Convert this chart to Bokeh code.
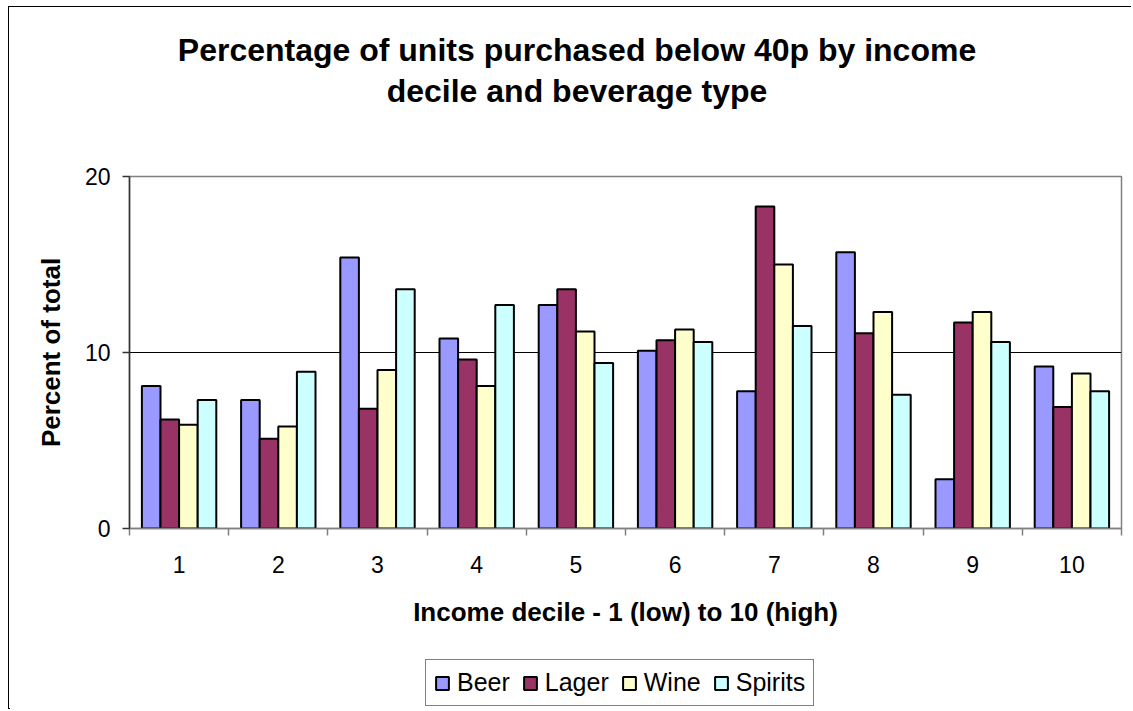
from bokeh.plotting import figure
from bokeh.layouts import column
from bokeh.models import (Range1d, FixedTicker, Legend, LegendItem, Label,
                          ColumnDataSource)
from bokeh.transform import dodge
from bokeh.embed import file_html
from bokeh.resources import INLINE

# ---- data ----
deciles = [1, 2, 3, 4, 5, 6, 7, 8, 9, 10]
tick_labels = ["1", "2", "3", "4", "5", "6", "7", "8", "9", "10"]
beer = [8.1, 7.3, 15.4, 10.8, 12.7, 10.1, 7.8, 15.7, 2.8, 9.2]
lager = [6.2, 5.1, 6.8, 9.6, 13.6, 10.7, 18.3, 11.1, 11.7, 6.9]
wine = [5.9, 5.8, 9.0, 8.1, 11.2, 11.3, 15.0, 12.3, 12.3, 8.8]
spirits = [7.3, 8.9, 13.6, 12.7, 9.4, 10.6, 11.5, 7.6, 10.6, 7.8]
series_names = ["Beer", "Lager", "Wine", "Spirits"]
series_colors = ["#9999FF", "#993366", "#FFFFCC", "#CCFFFF"]
y_ticks = [0, 10, 20]
title_lines = ["Percentage of units purchased below 40p by income",
               "decile and beverage type"]

FONT = "Liberation Sans"
W = 1122

data = dict(decile=deciles, Beer=beer, Lager=lager, Wine=wine, Spirits=spirits)
src = ColumnDataSource(data)
bar_w = 0.1875
offsets = [-1.5 * bar_w, -0.5 * bar_w, 0.5 * bar_w, 1.5 * bar_w]

# ---------------- title strip ----------------
TH = 130
tp = figure(width=W, height=TH, output_backend="svg", toolbar_location=None,
            x_range=Range1d(0, W), y_range=Range1d(TH, 0),
            x_axis_location=None, y_axis_location=None, min_border=0,
            frame_align=False)
tp.grid.visible = False
tp.outline_line_color = None
tp.background_fill_color = "white"
tp.border_fill_color = "white"
for i, line in enumerate(title_lines):
    tp.add_layout(Label(x=567.5, y=42 + 41.5 * i, text=line, text_align="center",
                        text_baseline="alphabetic", text_font=FONT,
                        text_font_style="bold", text_font_size="32px",
                        text_color="black"))

# ---------------- main chart ----------------
p = figure(width=W, height=501, output_backend="svg", toolbar_location=None,
           x_range=Range1d(0.5, 10.5), y_range=Range1d(0, 20),
           min_border_left=120, min_border_top=39, min_border_right=10,
           min_border_bottom=110, frame_align=False)
p.background_fill_color = "white"
p.border_fill_color = "white"
p.outline_line_color = "#808080"
p.outline_line_width = 1.5

for name, col, off in zip(series_names, series_colors, offsets):
    p.vbar(x=dodge("decile", off, range=p.x_range), top=name, width=bar_w,
           source=src, fill_color=col, line_color="black", line_width=2)

p.xgrid.visible = False
p.ygrid.ticker = FixedTicker(ticks=[10])
p.ygrid.grid_line_color = "black"
p.ygrid.grid_line_width = 1

xa = p.xaxis[0]
xa.ticker = FixedTicker(ticks=deciles,
                        minor_ticks=[d - 0.5 for d in deciles] + [deciles[-1] + 0.5])
xa.major_label_overrides = {d: t for d, t in zip(deciles, tick_labels)}
xa.major_tick_line_color = None
xa.major_tick_out = 0
xa.major_tick_in = 0
xa.minor_tick_out = 7
xa.minor_tick_in = 0
xa.minor_tick_line_color = "#808080"
xa.minor_tick_line_width = 1.5
xa.axis_line_color = "#808080"
xa.axis_line_width = 1.5
xa.major_label_text_font = FONT
xa.major_label_text_font_size = "23px"
xa.major_label_text_color = "black"
xa.major_label_standoff = 20
xa.axis_label = "Income decile - 1 (low) to 10 (high)"
xa.axis_label_text_font = FONT
xa.axis_label_text_font_style = "bold"
xa.axis_label_text_font_size = "26px"
xa.axis_label_text_color = "black"
xa.axis_label_standoff = 21

ya = p.yaxis[0]
ya.ticker = FixedTicker(ticks=y_ticks, minor_ticks=[])
ya.major_tick_out = 7
ya.major_tick_in = 0
ya.major_tick_line_color = "#333333"
ya.major_tick_line_width = 1.5
ya.axis_line_color = "#333333"
ya.axis_line_width = 1.5
ya.major_label_text_font = FONT
ya.major_label_text_font_size = "23px"
ya.major_label_text_color = "black"
ya.major_label_standoff = 12
ya.axis_label = "Percent of total"
ya.axis_label_text_font = FONT
ya.axis_label_text_font_style = "bold"
ya.axis_label_text_font_size = "26px"
ya.axis_label_text_color = "black"
ya.axis_label_standoff = 16

# ---------------- legend strip ----------------
LH = 71
lp = figure(width=W, height=LH, output_backend="svg", toolbar_location=None,
            x_range=Range1d(100, 101), y_range=Range1d(100, 101),
            x_axis_location=None, y_axis_location=None, min_border=0,
            frame_align=False)
lp.grid.visible = False
lp.outline_line_color = None
lp.background_fill_color = "white"
lp.border_fill_color = "white"
items = []
for name, col in zip(series_names, series_colors):
    # same series, only used for the legend swatches (outside this strip's view)
    r = lp.vbar(x="decile", top=name, width=bar_w, source=src,
                fill_color=col, line_color="black", line_width=2)
    items.append(LegendItem(label=name, renderers=[r]))

legend = Legend(items=items, orientation="horizontal", location=(416, 3))
legend.label_text_font = FONT
legend.label_text_font_size = "25px"
legend.label_text_color = "black"
legend.glyph_width = 16
legend.glyph_height = 16
legend.label_standoff = 7
legend.spacing = 12
legend.padding = 8
legend.margin = 0
legend.border_line_color = "black"
legend.border_line_width = 1
legend.background_fill_color = "white"
legend.background_fill_alpha = 1
lp.add_layout(legend, "center")

layout = column(tp, p, lp, spacing=0)
layout.margin = (6, 0, 0, 8)
layout.styles = {"border-left": "1px solid black", "border-top": "1px solid black"}

open("out.html", "w").write(file_html(layout, INLINE))
